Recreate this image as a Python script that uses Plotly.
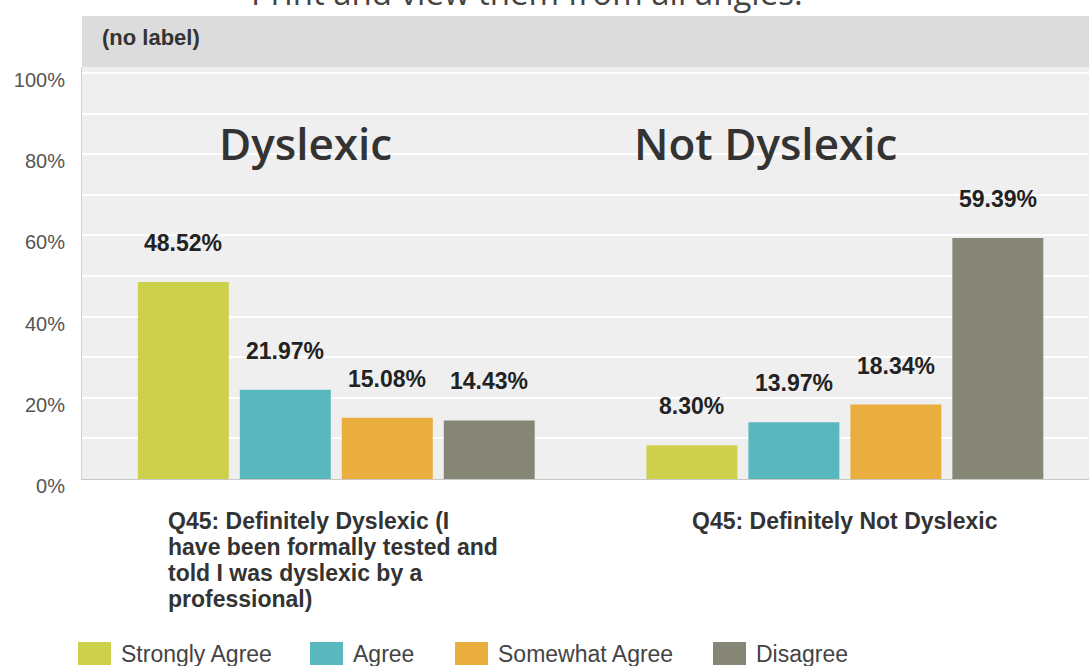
import plotly.graph_objects as go

# ---------------- data ----------------
categories = [
    "Q45: Definitely Dyslexic (I have been formally tested and told I was dyslexic by a professional)",
    "Q45: Definitely Not Dyslexic",
]
category_labels = [
    "Q45: Definitely Dyslexic (I<br>have been formally tested and<br>told I was dyslexic by a<br>professional)",
    "Q45: Definitely Not Dyslexic",
]
group_titles = ["Dyslexic", "Not Dyslexic"]
series_names = ["Strongly Agree", "Agree", "Somewhat Agree", "Disagree"]
strongly_agree = [48.52, 8.30]
agree = [21.97, 13.97]
somewhat_agree = [15.08, 18.34]
disagree = [14.43, 59.39]
y_tick_values = [0, 20, 40, 60, 80, 100]
y_tick_labels = ["0%", "20%", "40%", "60%", "80%", "100%"]
y_minor_values = [10, 30, 50, 70, 90]
panel_label = "(no label)"
top_text = "Print and view them from all angles."

series_values = [strongly_agree, agree, somewhat_agree, disagree]
colors = ["#cdd04b", "#58b8be", "#eaae3f", "#868677"]

# ---------------- layout helpers ----------------
W, H = 1089, 666
PL, PR, PT, PB = 82, 1089, 67, 479
BARGAP = 0.198
BARGROUPGAP = 0.108
CAT_LINE_STEP = 26        # px between label lines
CAT_BLOCK_HALF = 170      # half width of a multi-line label block (px)


def px(x):
    return (x - PL) / (PR - PL)


def py(y):
    return (PB - y) / (PB - PT)


FONT = "Arial, Liberation Sans, sans-serif"

fig = go.Figure()
for name, vals, col in zip(series_names, series_values, colors):
    fig.add_trace(go.Bar(
        x=categories, y=vals, name=name,
        marker=dict(color=col, line=dict(width=0)),
        showlegend=False, hoverinfo="skip",
    ))

annotations = []
# value labels above bars
slot = (1 - BARGAP) / len(series_names)
for s, vals in enumerate(series_values):
    for i, v in enumerate(vals):
        annotations.append(dict(
            xref="x", yref="y", x=i + (s - 1.5) * slot, y=v,
            text=f"{v:.2f}%", showarrow=False, yanchor="middle", yshift=39,
            font=dict(family=FONT, size=23, color="#222222", weight="bold"),
        ))

# category labels under axis (one annotation per line for tight spacing)
for i, lab in enumerate(category_labels):
    lines = lab.split("<br>")
    multi = len(lines) > 1
    for k, line in enumerate(lines):
        annotations.append(dict(
            xref="x", yref="paper", x=i, y=0, text=line, showarrow=False,
            xanchor="left" if multi else "center", yanchor="top",
            xshift=-CAT_BLOCK_HALF if multi else 0,
            yshift=-27 - k * CAT_LINE_STEP,
            font=dict(family=FONT, size=23, color="#333333", weight="bold"),
        ))

# big group titles
for t, cx in zip(group_titles, [305, 765]):
    annotations.append(dict(
        xref="paper", yref="paper", x=px(cx), y=py(143), text=t,
        showarrow=False, xanchor="center", yanchor="middle",
        font=dict(family="Open Sans, sans-serif", size=44, color="#333333", weight=600),
    ))

# panel header label
annotations.append(dict(
    xref="paper", yref="paper", x=px(100), y=py(38), text=panel_label,
    showarrow=False, xanchor="left", yanchor="middle",
    font=dict(family=FONT, size=22, color="#333333", weight="bold"),
))

# cut-off text at top
annotations.append(dict(
    xref="paper", yref="paper", x=px(805), y=py(17), text=top_text,
    showarrow=False, xanchor="right", yanchor="bottom",
    font=dict(family="Open Sans, sans-serif", size=33, color="#444444"),
))

shapes = [dict(
    type="rect", xref="paper", yref="paper", x0=0, x1=1.02,
    y0=1, y1=py(16), fillcolor="#dcdcdc", line=dict(width=0), layer="below",
)]

# custom legend
legend_x = [78, 310, 455, 713]
for name, col, lx in zip(series_names, colors, legend_x):
    shapes.append(dict(
        type="rect", xref="paper", yref="paper",
        x0=px(lx), x1=px(lx + 33), y0=py(665), y1=py(642),
        fillcolor=col, line=dict(width=0),
    ))
    annotations.append(dict(
        xref="paper", yref="paper", x=px(lx + 41), y=py(654), text=name,
        showarrow=False, xanchor="left", yanchor="middle",
        font=dict(family=FONT, size=23, color="#444444"),
    ))

fig.update_layout(
    width=W, height=H,
    margin=dict(l=PL, r=W - PR, t=PT, b=H - PB, pad=0),
    paper_bgcolor="white", plot_bgcolor="#efefef",
    barmode="group", bargap=BARGAP, bargroupgap=BARGROUPGAP,
    annotations=annotations, shapes=shapes, showlegend=False,
    xaxis=dict(
        type="category", range=[-0.5, 1.48], showticklabels=False,
        showgrid=False, zeroline=False, showline=True,
        linecolor="#c8c8c8", linewidth=1, ticks="",
    ),
    yaxis=dict(
        range=[0, (PB - PT) / 4.06], tickvals=y_tick_values, ticktext=y_tick_labels,
        showgrid=True, gridcolor="white", gridwidth=2,
        minor=dict(tickvals=y_minor_values, showgrid=True, gridcolor="white", gridwidth=2),
        zeroline=False, showline=True, linecolor="#d0d0d0", linewidth=1,
        ticks="", ticklabelshift=7, ticklabelstandoff=12,
        tickfont=dict(family=FONT, size=20, color="#555555"),
    ),
)

fig.write_html("out.html")
